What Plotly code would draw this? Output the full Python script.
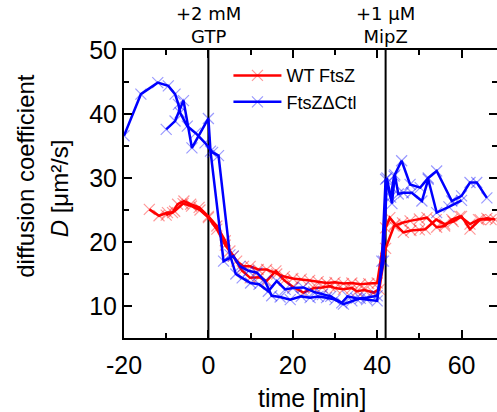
import plotly.graph_objects as go

# WT FtsZ, run 1
wt1_t = [-14, -11.7, -9.7, -8.5, -7.3, -5.8, -4.2, -2.2, 0, 2, 4, 5.1, 6.7, 8.3, 9.9, 11.8, 13.8,
         16.2, 18, 20, 22, 24, 26, 28, 30, 32, 34, 36, 38, 40, 42, 43, 44.2, 46.2, 48, 50, 51.4,
         54, 56, 58, 60, 62, 64.4, 67]
wt1_d = [25.1, 24.1, 24.6, 24.6, 25.9, 26.4, 25.9, 25.4, 24.0, 22.5, 20.2, 18.6, 17.0, 16.2, 16.2,
         15.7, 15.7, 15.0, 14.6, 14.3, 14.2, 14.0, 13.8, 13.6, 13.7, 13.5, 13.6, 13.4, 13.5, 13.6,
         22.2, 23.8, 22.8, 21.5, 21.8, 21.9, 22.0, 23.5, 22.8, 23.2, 24.0, 22.0, 23.5, 23.5]

# WT FtsZ, run 2
wt2_t = [-10, -8, -6, -4, -2, 0, 2, 4, 5.9, 8, 9.9, 12, 13.8, 16, 18, 20, 22.5, 25, 27, 28.8, 30,
         32, 34, 35.2, 37, 39.1, 40.5, 42, 44, 46, 47.8, 50, 51.8, 54.1, 56, 57.7, 59.6, 62, 64,
         66, 68]
wt2_d = [24.2, 24.8, 26.0, 25.6, 25.0, 23.8, 22.0, 19.5, 17.8, 15.5, 14.4, 14.5, 13.9, 15.5, 14.0,
         13.0, 12.1, 12.8, 12.9, 13.1, 12.8, 12.6, 12.8, 12.3, 12.5, 12.1, 12.6, 19.0, 22.5, 23.0,
         23.3, 23.6, 23.8, 22.3, 22.5, 23.5, 24.0, 22.8, 23.5, 23.7, 23.5]

# FtsZ dCtl, run 1
dc1_t = [-20, -16, -12, -9.5, -7.9, -7.1, -6.7, -5, -3, -0.8, 1, 2.4, 5.1, 6.5, 8, 10, 12, 14.2,
         16.2, 18.2, 20, 22.5, 25, 27, 29, 31.6, 33, 35, 37.5, 40, 41.1, 42, 43.2, 44, 45.8, 47.8,
         50.2, 52.1, 54.1, 57.7, 60, 62, 63.6, 66]
dc1_d = [36.6, 43.1, 44.9, 44.4, 43.1, 41.5, 40.2, 38.1, 37.0, 35.5, 34.0, 33.5, 18.0, 15.0, 14.4,
         13.6, 13.4, 12.3, 13.9, 12.6, 12.8, 12.9, 12.2, 11.8, 11.5, 10.5, 11.5, 11.2, 11.0, 10.8,
         17.0, 29.8, 27.0, 30.3, 32.7, 29.0, 28.5, 30.0, 31.1, 26.4, 27.2, 29.3, 29.3, 26.9]

# FtsZ dCtl, run 2
dc2_t = [-10, -7.9, -5.9, -3.9, 0, 0.5, 3.6, 5.9, 7.5, 9.5, 11.5, 13.4, 15, 17, 19.4, 22, 24.1, 26,
         28, 30, 32, 34, 36, 37.5, 40, 41.5, 42.3, 43.5, 44.2, 45, 46.2, 48.2, 50.6, 52.1, 54.1,
         57, 60]
dc2_d = [37.6, 38.9, 42.1, 34.7, 39.3, 34.2, 17.0, 17.8, 16.2, 15.5, 15.2, 13.9, 11.6, 11.4, 11.0,
         11.5, 11.3, 11.5, 11.3, 11.0, 10.3, 10.8, 11.2, 11.3, 11.6, 17.0, 30.0, 26.0, 30.5, 27.5,
         27.7, 27.7, 26.4, 29.8, 24.6, 25.5, 26.5]

x_ticks = [-20, 0, 20, 40, 60]
x_ticklabels = ["-20", "0", "20", "40", "60"]
y_ticks = [10, 20, 30, 40, 50]

events_t = [0, 42]
events_label = ["+2 mM<br>GTP", "+1 μM<br>MipZ"]

RED = "#ff0000"
BLUE = "#0000ff"
RED_M = "rgba(255,0,0,0.4)"
BLUE_M = "rgba(0,0,255,0.4)"

fig = go.Figure()


def add(t, d, name, col, mcol, show):
    fig.add_trace(go.Scatter(
        x=t, y=d, mode="lines+markers", name=name, showlegend=show,
        legendgroup=name,
        line=dict(color=col, width=2.5),
        marker=dict(symbol="x-thin", size=11, color=mcol,
                    line=dict(width=1.2, color=mcol)),
    ))


add(wt1_t, wt1_d, "WT FtsZ", RED, RED_M, True)
add(wt2_t, wt2_d, "WT FtsZ", RED, RED_M, False)
add(dc1_t, dc1_d, "FtsZΔCtl", BLUE, BLUE_M, True)
add(dc2_t, dc2_d, "FtsZΔCtl", BLUE, BLUE_M, False)

for et, lab in zip(events_t, events_label):
    fig.add_shape(type="line", xref="x", yref="paper", x0=et, x1=et, y0=0, y1=1,
                  line=dict(color="black", width=2), layer="below")
    fig.add_annotation(x=et, xref="x", y=1.087, yref="paper", text=lab, showarrow=False,
                       xanchor="center", yanchor="middle",
                       font=dict(family="DejaVu Sans", size=18, color="black"))

FONT = "Arial, Liberation Sans"
axis_common = dict(
    showline=True, linecolor="black", linewidth=2, mirror="allticks",
    ticks="inside", ticklen=8, tickwidth=2, tickcolor="black",
    showgrid=False, zeroline=False,
    tickfont=dict(family=FONT, size=25, color="black"),
)

fig.update_xaxes(range=[-20, 68.4], tickvals=x_ticks, ticktext=x_ticklabels,
                 ticklabelstandoff=4,
                 minor=dict(ticks="inside", ticklen=5, tickwidth=1.5, dtick=10,
                            tickcolor="black", showgrid=False),
                 **axis_common)
fig.update_yaxes(range=[5, 50], tickvals=y_ticks,
                 minor=dict(ticks="inside", ticklen=5, tickwidth=1.5, dtick=5,
                            tickcolor="black", showgrid=False),
                 **axis_common)

fig.add_annotation(x=0.504, y=-0.208, xref="paper", yref="paper", text="time [min]",
                   showarrow=False, xanchor="center", yanchor="middle",
                   font=dict(family=FONT, size=25, color="black"))
fig.add_annotation(x=-0.265, y=0.564, xref="paper", yref="paper", text="diffusion coefficient",
                   showarrow=False, textangle=-90, xanchor="center", yanchor="middle",
                   font=dict(family=FONT, size=24, color="black"))
fig.add_annotation(x=-0.172, y=0.519, xref="paper", yref="paper", text="<i>D</i> [μm²/s]",
                   showarrow=False, textangle=-90, xanchor="center", yanchor="middle",
                   font=dict(family=FONT, size=24, color="black"))

fig.update_layout(
    width=497, height=412,
    margin=dict(l=124, r=0, t=50, b=74, autoexpand=False),
    paper_bgcolor="white", plot_bgcolor="white",
    legend=dict(x=0.28, y=0.975, xanchor="left", yanchor="top",
                bgcolor="rgba(0,0,0,0)", font=dict(family=FONT, size=18, color="black"),
                tracegroupgap=0, itemwidth=48),
    showlegend=True,
)

fig.write_html("out.html")
